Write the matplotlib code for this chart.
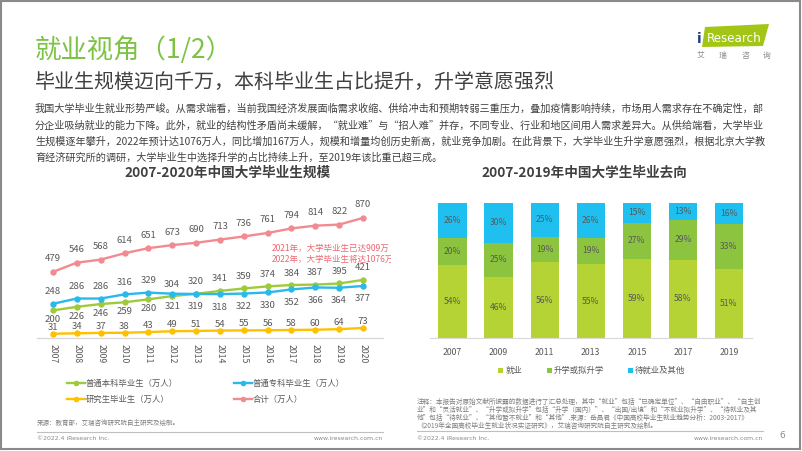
import matplotlib
matplotlib.use("Agg")
import matplotlib.pyplot as plt
from matplotlib.patches import Polygon, Rectangle
from matplotlib.lines import Line2D
from matplotlib.transforms import Bbox

plt.rcParams['font.family'] = ['Noto Sans CJK SC', 'DejaVu Sans']

# ---------------- data ----------------
years = [2007, 2008, 2009, 2010, 2011, 2012, 2013, 2014, 2015, 2016, 2017, 2018, 2019, 2020]
undergrad = [200, 226, 246, 259, 280, 304, 320, 341, 359, 374, 384, 387, 395, 421]
college = [248, 286, 286, 316, 329, 321, 319, 318, 322, 330, 352, 366, 364, 377]
postgrad = [31, 34, 37, 38, 43, 49, 51, 54, 55, 56, 58, 60, 64, 73]
total = [479, 546, 568, 614, 651, 673, 690, 713, 736, 761, 794, 814, 822, 870]
line_names = ['普通本科毕业生（万人）', '普通专科毕业生（万人）', '研究生毕业生（万人）', '合计（万人）']

bar_years = ['2007', '2009', '2011', '2013', '2015', '2017', '2019']
employed = [54, 46, 56, 55, 59, 58, 51]
further_study = [20, 25, 19, 19, 27, 29, 33]
other = [26, 30, 25, 26, 15, 13, 16]
bar_names = ['就业', '升学或拟升学', '待就业及其他']

title = '就业视角（1/2）'
subtitle = '毕业生规模迈向千万，本科毕业生占比提升，升学意愿强烈'
paragraph = [
    '我国大学毕业生就业形势严峻。从需求端看，当前我国经济发展面临需求收缩、供给冲击和预期转弱三重压力，叠加疫情影响持续，市场用人需求存在不确定性，部',
    '分企业吸纳就业的能力下降。此外，就业的结构性矛盾尚未缓解，“就业难”与“招人难”并存，不同专业、行业和地区间用人需求差异大。从供给端看，大学毕业',
    '生规模逐年攀升，2022年预计达1076万人，同比增加167万人，规模和增量均创历史新高，就业竞争加剧。在此背景下，大学毕业生升学意愿强烈，根据北京大学教',
    '育经济研究所的调研，大学毕业生中选择升学的占比持续上升，至2019年该比重已超三成。',
]
left_title = '2007-2020年中国大学毕业生规模'
right_title = '2007-2019年中国大学生毕业去向'
annotation = ['2021年，大学毕业生已达909万', '2022年，大学毕业生将达1076万']
source_left = '来源：教育部，艾瑞咨询研究院自主研究及绘制。'
notes = [
    '注释：本报告对原始文献所披露的数据进行了汇总处理，其中“就业”包括“已确定单位”、“自由职业”、“自主创',
    '业”和“灵活就业”、“升学或拟升学”包括“升学（国内）”、“出国/出境”和“不就业拟升学”、“待就业及其',
    '他”包括“待就业”、“其他暂不就业”和“其他”.来源：岳昌君《中国高校毕业生就业趋势分析：2003-2017》',
    '《2019年全国高校毕业生就业状况实证研究》，艾瑞咨询研究院自主研究及绘制。',
]
copyright_txt = '©2022.4 iResearch Inc.'
url_txt = 'www.iresearch.com.cn'

# ---------------- style ----------------
W, H = 802, 451
C_GREEN = '#9fcb3b'
C_BLUE = '#29b9ea'
C_YELLOW = '#ffc000'
C_PINK = '#f28b91'
B_EMP = '#b5d334'
B_STUDY = '#8cc43f'
B_OTHER = '#1fc0ef'
TXT = '#404040'
LBL = '#595959'

fig = plt.figure(figsize=(W / 100, H / 100), dpi=100)
fig.patch.set_facecolor('white')


def P(x, y):
    return (x / W, 1 - y / H)


def ftext(x, y, s, **kw):
    return fig.text(x / W, 1 - y / H, s, **kw)


def axes_px(l, t, r, b):
    return fig.add_axes([l / W, 1 - b / H, (r - l) / W, (b - t) / H])


# frame
for (x0, y0, x1, y1) in [(1, 1, 800, 1), (1, 1, 1, 449), (800, 1, 800, 449), (1, 449, 800, 449)]:
    fig.add_artist(Line2D([x0 / W, x1 / W], [1 - y0 / H, 1 - y1 / H], color='#8a8a8a', lw=1.5))

# header
ftext(35, 50, title, fontsize=19, color='#7cc243', va='center', ha='left')
ftext(35, 82, subtitle, fontsize=14.4, color=TXT, va='center', ha='left')
for i, line in enumerate(paragraph):
    ftext(35, 109 + i * 16.3, line, fontsize=7.3, color=TXT, va='center', ha='left')

# logo
fig.add_artist(Polygon([P(705, 27), P(769, 24), P(763, 46), P(702, 47)], closed=True,
                       transform=fig.transFigure, facecolor='#a3c516', edgecolor='none'))
ftext(699, 39, 'i', fontsize=10, color='#1b3d7a', va='center', ha='center', fontweight='bold',
      family='DejaVu Sans')
ftext(734, 38, 'Research', fontsize=8.6, color='white', va='center', ha='center', family='DejaVu Sans')
for i, ch in enumerate('艾瑞咨询'):
    ftext(701 + i * 22, 56, ch, fontsize=5.6, color='#8a8a8a', va='center', ha='center')

# ---------------- left chart ----------------
ftext(227.5, 173, left_title, fontsize=9.8, fontweight='bold', color=TXT, va='center', ha='center')
axL = axes_px(37, 200, 383, 338)
xmin = 2007 - 16 / (310 / 13)
xmax = 2020 + 20 / (310 / 13)
axL.set_xlim(xmin, xmax)
axL.set_ylim(0, 1000)
series = [(undergrad, C_GREEN), (college, C_BLUE), (postgrad, C_YELLOW), (total, C_PINK)]
for vals, c in series:
    axL.plot(years, vals, color=c, lw=1.7, marker='o', markersize=4.6, markeredgewidth=0, zorder=3,
             clip_on=False)


def lab(ax, x, v, dy):
    ax.annotate(str(v), (x, v), xytext=(0, dy), textcoords='offset pixels', ha='center', va='center',
                fontsize=6.9, color=LBL, annotation_clip=False)


for i, y in enumerate(years):
    lab(axL, y, total[i], 13)
    lab(axL, y, postgrad[i], 6.5)
    if y <= 2011:
        lab(axL, y, undergrad[i], -9.5)
        lab(axL, y, college[i], 12)
    else:
        lab(axL, y, undergrad[i], 12)
        lab(axL, y, college[i], -13)

for s in ['top', 'right', 'left']:
    axL.spines[s].set_visible(False)
axL.spines['bottom'].set_color('#d9d9d9')
axL.spines['bottom'].set_linewidth(1)
axL.set_yticks([])
axL.set_xticks(years)
axL.set_xticklabels([str(y) for y in years], rotation=-90, fontsize=6.3, color=LBL)
axL.tick_params(axis='x', length=0, pad=4)
axL.patch.set_alpha(0)

for i, t in enumerate(annotation):
    tx = ftext(272, 248 + i * 11.5, t, fontsize=6.1, color='#ee6670', va='center', ha='left')
    tx.set_clip_box(Bbox([[0, 0], [391, H]]))
    tx.set_clip_on(True)

# left legend
leg_pos = [(67, 383), (234, 383), (67, 399), (234, 399)]
leg_colors = [C_GREEN, C_BLUE, C_YELLOW, C_PINK]
for (x, y), c, name in zip(leg_pos, leg_colors, line_names):
    fig.add_artist(Line2D([x / W, (x + 18) / W], [1 - y / H, 1 - y / H], color=c, lw=1.7))
    fig.add_artist(Line2D([(x + 9) / W], [1 - y / H], color=c, marker='o', markersize=4, markeredgewidth=0))
    ftext(x + 19, y, name, fontsize=6, color=LBL, va='center', ha='left')

ftext(37, 423, source_left, fontsize=4.7, color='#7f7f7f', va='center', ha='left')
fig.add_artist(Line2D([37 / W, 383 / W], [1 - 432 / H, 1 - 432 / H], color='#bfbfbf', lw=0.8))
ftext(37, 439, copyright_txt, fontsize=4.4, color='#8a8a8a', va='center', ha='left', family='DejaVu Sans')
ftext(383, 439, url_txt, fontsize=4.4, color='#8a8a8a', va='center', ha='right', family='DejaVu Sans')

# ---------------- right chart ----------------
ftext(584.5, 173, right_title, fontsize=9.8, fontweight='bold', color=TXT, va='center', ha='center')
axR = axes_px(430, 202.7, 752, 338.3)
xs = list(range(len(bar_years)))
tot = [a + b + c for a, b, c in zip(employed, further_study, other)]
e_n = [a / t * 100 for a, t in zip(employed, tot)]
s_n = [b / t * 100 for b, t in zip(further_study, tot)]
o_n = [c / t * 100 for c, t in zip(other, tot)]
bw = 0.614
axR.bar(xs, e_n, width=bw, color=B_EMP, zorder=2)
axR.bar(xs, s_n, width=bw, bottom=e_n, color=B_STUDY, zorder=2)
axR.bar(xs, o_n, width=bw, bottom=[a + b for a, b in zip(e_n, s_n)], color=B_OTHER, zorder=2)
for i in xs:
    axR.text(i, e_n[i] / 2, f'{employed[i]}%', ha='center', va='center', fontsize=6.2, color=LBL)
    axR.text(i, e_n[i] + s_n[i] / 2, f'{further_study[i]}%', ha='center', va='center', fontsize=6.2, color=LBL)
    axR.text(i, e_n[i] + s_n[i] + o_n[i] / 2, f'{other[i]}%', ha='center', va='center', fontsize=6.2, color=LBL)
axR.set_xlim(-22.5 / 46.1, 6 + 23 / 46.1)
axR.set_ylim(0, 100)
for s in ['top', 'right', 'left']:
    axR.spines[s].set_visible(False)
axR.spines['bottom'].set_color('#d9d9d9')
axR.set_yticks([])
axR.set_xticks(xs)
axR.set_xticklabels(bar_years, fontsize=6.3, color=LBL)
axR.tick_params(axis='x', length=0, pad=7)

# right legend
for x, c, name in zip([501, 549, 630], [B_EMP, B_STUDY, B_OTHER], bar_names):
    fig.add_artist(Rectangle(P(x - 2.5, 372.5), 5 / W, 5 / H, transform=fig.transFigure,
                             facecolor=c, edgecolor='none'))
    ftext(x + 5, 370, name, fontsize=6, color=LBL, va='center', ha='left')

for i, line in enumerate(notes):
    ftext(417, 402 + i * 8, line, fontsize=4.8, color='#7f7f7f', va='center', ha='left')
fig.add_artist(Line2D([417 / W, 763 / W], [1 - 431 / H, 1 - 431 / H], color='#bfbfbf', lw=0.8))
ftext(417, 438, copyright_txt, fontsize=4.4, color='#8a8a8a', va='center', ha='left', family='DejaVu Sans')
ftext(763, 438, url_txt, fontsize=4.4, color='#8a8a8a', va='center', ha='right', family='DejaVu Sans')
ftext(782, 436, '6', fontsize=6.5, color='#8a8a8a', va='center', ha='center', family='DejaVu Sans')

fig.savefig('out.png', dpi=100, facecolor='white')
